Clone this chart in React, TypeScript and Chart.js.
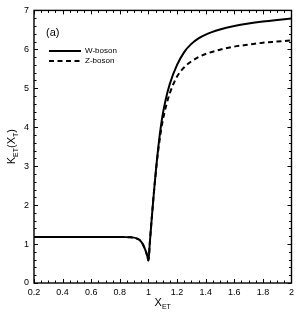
import { useEffect, useRef } from "react";
import { Chart, registerables } from "chart.js";

Chart.register(...registerables);

const xValues = [0.2, 0.3, 0.4, 0.5, 0.6, 0.7, 0.8, 0.85, 0.88, 0.9, 0.92, 0.94, 0.96, 0.97, 0.98, 0.99, 1.0, 1.01, 1.02, 1.03, 1.04, 1.05, 1.06, 1.07, 1.08, 1.09, 1.1, 1.12, 1.15, 1.2, 1.25, 1.3, 1.35, 1.4, 1.5, 1.6, 1.7, 1.8, 1.9, 2.0];
const wBoson = [1.18, 1.18, 1.18, 1.18, 1.18, 1.18, 1.18, 1.178, 1.172, 1.165, 1.14, 1.1, 1.0, 0.92, 0.83, 0.72, 0.58, 1.05, 1.52, 1.97, 2.4, 2.8, 3.18, 3.52, 3.83, 4.1, 4.33, 4.7, 5.12, 5.6, 5.93, 6.14, 6.28, 6.38, 6.51, 6.6, 6.665, 6.715, 6.755, 6.79];
const zBoson = [1.18, 1.18, 1.18, 1.18, 1.18, 1.18, 1.18, 1.178, 1.172, 1.165, 1.14, 1.1, 1.0, 0.92, 0.83, 0.72, 0.58, 1.05, 1.52, 1.97, 2.4, 2.78, 3.15, 3.45, 3.72, 3.96, 4.17, 4.5, 4.88, 5.3, 5.54, 5.69, 5.8, 5.88, 5.99, 6.07, 6.12, 6.17, 6.2, 6.23];
const seriesLabels = ["W-boson", "Z-boson"];
const xTickLabels = ["0.2", "0.4", "0.6", "0.8", "1", "1.2", "1.4", "1.6", "1.8", "2"];
const yTickLabels = ["0", "1", "2", "3", "4", "5", "6", "7"];
const panelLabel = "(a)";

const FONT = "'Liberation Sans', Arial, Helvetica, sans-serif";

function drawSubText(ctx: CanvasRenderingContext2D, parts: [string, boolean][], x: number, y: number, big: number, small: number) {
  let total = 0;
  for (const [t, sub] of parts) {
    ctx.font = `${sub ? small : big}px ${FONT}`;
    total += ctx.measureText(t).width;
  }
  let cx = x - total / 2;
  ctx.textBaseline = "alphabetic";
  ctx.textAlign = "left";
  for (const [t, sub] of parts) {
    ctx.font = `${sub ? small : big}px ${FONT}`;
    ctx.fillText(t, cx, sub ? y + 2.5 : y);
    cx += ctx.measureText(t).width;
  }
}

const decor = {
  id: "decor",
  afterDatasetsDraw(chart: any) {
    const { ctx, chartArea: a, scales } = chart;
    const xs = scales.x;
    const ys = scales.y;
    ctx.save();
    ctx.strokeStyle = "#000";
    ctx.lineWidth = 1;
    const seg = (x1: number, y1: number, x2: number, y2: number) => {
      ctx.beginPath();
      ctx.moveTo(x1, y1);
      ctx.lineTo(x2, y2);
      ctx.stroke();
    };
    for (let i = 0; i <= 36; i++) {
      const v = 0.2 + i * 0.05;
      const p = Math.round(xs.getPixelForValue(v)) + 0.5;
      const len = i % 4 === 0 ? 4 : 2.5;
      seg(p, a.bottom, p, a.bottom - len);
      seg(p, a.top, p, a.top + len);
    }
    for (let i = 0; i <= 35; i++) {
      const v = i * 0.2;
      const p = Math.round(ys.getPixelForValue(v)) + 0.5;
      const len = i % 5 === 0 ? 4 : 2.5;
      seg(a.left, p, a.left + len, p);
      seg(a.right, p, a.right - len, p);
    }
    ctx.lineWidth = 1.4;
    ctx.strokeRect(a.left, a.top, a.right - a.left, a.bottom - a.top);

    ctx.fillStyle = "#000";
    ctx.font = `11px ${FONT}`;
    ctx.textAlign = "left";
    ctx.textBaseline = "middle";
    ctx.fillText(panelLabel, 46, 33);

    chart.data.datasets.forEach((ds: any, i: number) => {
      const y = 51 + i * 10;
      ctx.save();
      ctx.lineWidth = ds.borderWidth;
      ctx.strokeStyle = ds.borderColor;
      ctx.setLineDash(ds.borderDash || []);
      seg(49, y, 81, y);
      ctx.restore();
      ctx.font = `8px ${FONT}`;
      ctx.textAlign = "left";
      ctx.textBaseline = "middle";
      ctx.fillStyle = "#000";
      ctx.fillText(ds.label, 85, y);
    });

    const cx = (a.left + a.right) / 2;
    drawSubText(ctx, [["X", false], ["ET", true]], cx, 306, 11, 7);
    ctx.save();
    ctx.translate(15, (a.top + a.bottom) / 2);
    ctx.rotate(-Math.PI / 2);
    drawSubText(ctx, [["K", false], ["ET", true], ["(X", false], ["T", true], [")", false]], 0, 0, 11, 7);
    ctx.restore();
    ctx.restore();
  },
};

export default function App() {
  const ref = useRef<HTMLCanvasElement | null>(null);
  useEffect(() => {
    if (!ref.current) return;
    const chart = new Chart(ref.current, {
      type: "line",
      data: {
        datasets: [
          {
            label: seriesLabels[0],
            data: xValues.map((x, i) => ({ x, y: wBoson[i] })),
            borderColor: "#000",
            borderWidth: 2,
            pointRadius: 0,
            fill: false,
            cubicInterpolationMode: "monotone",
          },
          {
            label: seriesLabels[1],
            data: xValues.map((x, i) => ({ x, y: zBoson[i] })),
            borderColor: "#000",
            borderWidth: 2,
            borderDash: [5, 3.5],
            pointRadius: 0,
            fill: false,
            cubicInterpolationMode: "monotone",
          },
        ],
      },
      options: {
        animation: false,
        responsive: false,
        devicePixelRatio: 1,
        layout: { padding: { top: 5, right: 6, left: 0, bottom: 0 } },
        plugins: { legend: { display: false }, tooltip: { enabled: false } },
        scales: {
          x: {
            type: "linear",
            min: 0.2,
            max: 2,
            ticks: {
              stepSize: 0.2,
              padding: 4,
              color: "#000",
              font: { family: FONT, size: 9 },
              maxRotation: 0,
              callback: (v: any) => {
                const idx = Math.round((Number(v) - 0.2) / 0.2);
                return xTickLabels[idx] ?? "";
              },
            },
            grid: { display: false, drawTicks: false },
            border: { display: false },
            afterFit: (s: any) => {
              s.height = 30;
            },
          },
          y: {
            type: "linear",
            min: 0,
            max: 7,
            ticks: {
              stepSize: 1,
              padding: 5,
              color: "#000",
              font: { family: FONT, size: 9 },
              callback: (v: any) => yTickLabels[Math.round(Number(v))] ?? "",
            },
            grid: { display: false, drawTicks: false },
            border: { display: false },
            afterFit: (s: any) => {
              s.width = 34;
            },
          },
        },
      },
      plugins: [decor],
    } as any);
    return () => chart.destroy();
  }, []);
  return (
    <div style={{ position: "absolute", left: 0, top: 0, width: 298, height: 313, background: "#fff" }}>
      <canvas ref={ref} width={298} height={313} style={{ width: 298, height: 313, display: "block" }} />
    </div>
  );
}
